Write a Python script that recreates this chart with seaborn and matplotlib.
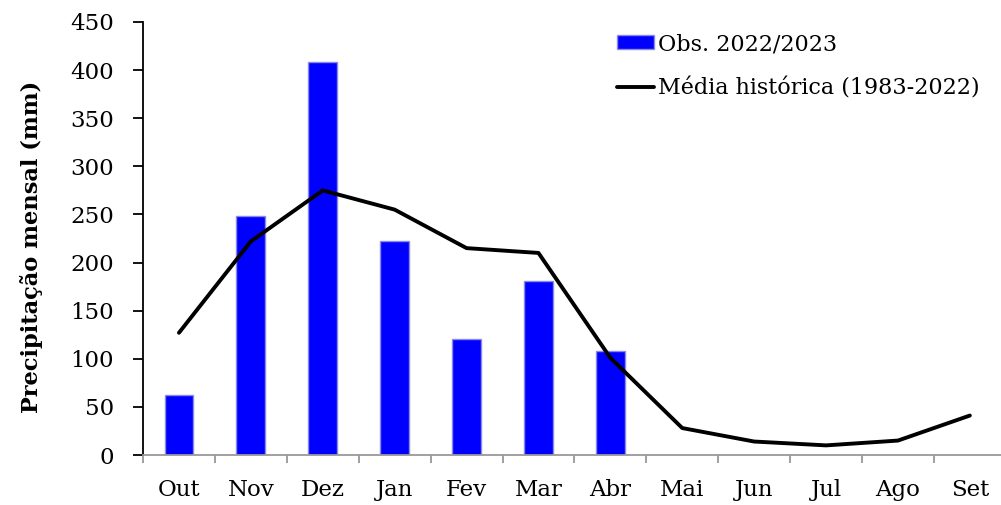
import numpy as np
import pandas as pd
import matplotlib
matplotlib.use("Agg")
import matplotlib.pyplot as plt
import seaborn as sns
from matplotlib.patches import Patch
from matplotlib.lines import Line2D

# dados (mm)
meses = ["Out", "Nov", "Dez", "Jan", "Fev", "Mar", "Abr", "Mai", "Jun", "Jul", "Ago", "Set"]
obs_2022_2023 = [62, 248, 408, 222, 121, 181, 108, np.nan, np.nan, np.nan, np.nan, np.nan]
media_historica = [127, 222, 275, 255, 215, 210, 101, 28, 14, 10, 15, 41]

df = pd.DataFrame({"mes": meses, "obs": obs_2022_2023, "media": media_historica})

sns.set_style("white")
plt.rcParams["font.family"] = ["DejaVu Serif"]
plt.rcParams["text.color"] = "black"
plt.rcParams["axes.labelcolor"] = "black"
plt.rcParams["xtick.color"] = "black"
plt.rcParams["ytick.color"] = "black"

fs = 16.5

fig = plt.figure(figsize=(10.01, 5.05), dpi=100)
ax = fig.add_axes([143 / 1001, 50 / 505, 858 / 1001, 433 / 505])

sns.barplot(data=df, x="mes", y="obs", order=meses, color="#0000ff",
            saturation=1, width=0.4, edgecolor="#8a8ae6", linewidth=1, ax=ax)
sns.lineplot(x=np.arange(len(meses)), y=df["media"], color="black",
             linewidth=2.8, ax=ax)

ax.set_xlim(-0.5, -0.5 + 858 / 71.9)
ax.set_ylim(0, 450)
ax.set_yticks(range(0, 451, 50))
ax.set_xticks(range(len(meses)))
ax.set_xticklabels(meses)
ax.set_xticks(np.arange(-0.5, 11, 1), minor=True)

for s in ["top", "right"]:
    ax.spines[s].set_visible(False)
ax.spines["left"].set_color("black")
ax.spines["left"].set_linewidth(1.3)
ax.spines["bottom"].set_color("#999999")
ax.spines["bottom"].set_linewidth(1.3)

ax.tick_params(axis="y", which="major", direction="out", length=7, width=1.3,
               color="black", labelcolor="black", labelsize=fs, pad=14, left=True)
ax.tick_params(axis="x", which="major", length=0, labelsize=fs, labelcolor="black", pad=17)
ax.tick_params(axis="x", which="minor", direction="out", length=6, width=1.3,
               color="#999999", bottom=True)

ax.set_xlabel("")
ax.set_ylabel("Precipitação mensal (mm)", fontsize=16.2, fontweight="bold", color="black")
ax.yaxis.set_label_coords(-0.117, 0.48)

handles = [Patch(facecolor="#0000ff", edgecolor="#8a8ae6"),
           Line2D([0], [0], color="black", linewidth=2.8)]
leg = ax.legend(handles, ["Obs. 2022/2023", "Média histórica (1983-2022)"],
                loc="upper left", bbox_to_anchor=(617 / 1001, 1 - 33 / 505),
                bbox_transform=fig.transFigure, frameon=False, fontsize=16,
                handlelength=1.65, handleheight=0.6, handletextpad=0.2,
                labelspacing=1.0, borderpad=0, borderaxespad=0)
for t in leg.get_texts():
    t.set_color("black")

fig.savefig("out.png", dpi=100)
